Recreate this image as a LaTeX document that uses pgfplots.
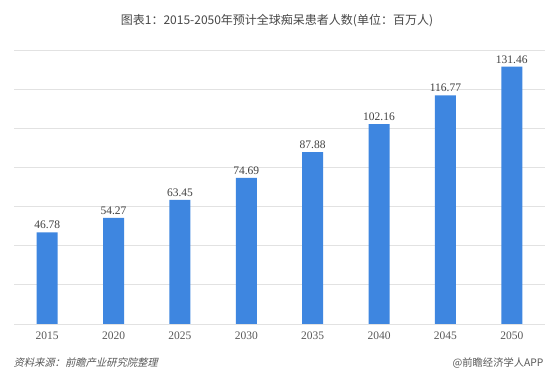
\documentclass[border=0pt]{standalone}
\usepackage{fontspec}
\setmainfont{Liberation Serif}
\newfontfamily\cjk{Noto Sans CJK SC}
\usepackage{pgfplots}
\pgfplotsset{compat=1.18}
\definecolor{barblue}{RGB}{62,134,224}
\definecolor{gridgray}{RGB}{226,226,226}
\definecolor{txtgray}{RGB}{89,89,89}
\definecolor{valgray}{RGB}{64,64,64}
\begin{document}
\begin{tikzpicture}
\path[use as bounding box, fill=white] (0,0) rectangle (554bp,382bp);
\begin{axis}[
  at={(14bp,58bp)}, anchor=south west,
  scale only axis, width=531bp, height=274bp,
  xmin=-0.5, xmax=7.5, ymin=0, ymax=140,
  xtick={0,...,7},
  xticklabels={2015,2020,2025,2030,2035,2040,2045,2050},
  ytick={0,20,...,140}, yticklabels={},
  ymajorgrids, grid style={gridgray, line width=0.8bp},
  axis line style={draw=none},
  major tick length=0pt,
  xticklabel style={font=\fontsize{11.5bp}{13bp}\selectfont, text=txtgray, yshift=-4.5bp},
  /pgf/number format/assume math mode=true,
  nodes near coords,
  nodes near coords style={font=\fontsize{11.5bp}{13bp}\selectfont, text=valgray, /pgf/number format/fixed, /pgf/number format/fixed zerofill, /pgf/number format/precision=2, yshift=0bp},
  ybar, bar width=21bp, bar shift=0pt,
  clip=false,
]
\addplot[fill=barblue, draw=none] coordinates {
(0,46.78) (1,54.27) (2,63.45) (3,74.69) (4,87.88) (5,102.16) (6,116.77) (7,131.46)};
\end{axis}
\node[font=\cjk\fontsize{12bp}{14bp}\selectfont, text=txtgray!80!black] at (277bp,361bp) {图表1：2015-2050年预计全球痴呆患者人数(单位：百万人)};
\node[anchor=west, font=\cjk\fontsize{10.3bp}{12bp}\selectfont, text=txtgray, xslant=0.25] at (11bp,19bp) {资料来源：前瞻产业研究院整理};
\node[anchor=east, font=\cjk\fontsize{10.3bp}{12bp}\selectfont, text=txtgray] at (547bp,19bp) {@前瞻经济学人APP};
\end{tikzpicture}
\end{document}
